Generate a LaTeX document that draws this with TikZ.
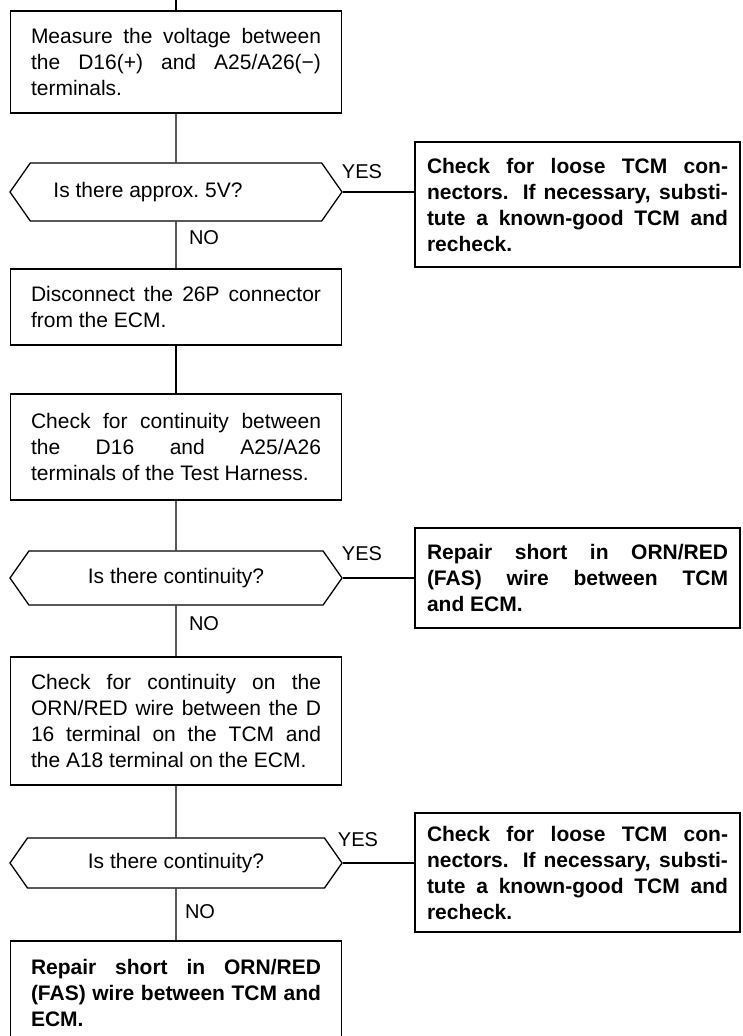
\documentclass[tikz,border=0pt]{standalone}
\usepackage{fontspec}
\setmainfont{Liberation Sans}
\usetikzlibrary{shapes.symbols}

\begin{document}
\begin{tikzpicture}[x=1pt,y=-1pt,
    act/.style={draw,line width=1.3pt,text width=290pt,inner xsep=20.5pt,inner ysep=0pt,align=justify,font=\fontsize{21}{26}\selectfont},
    res/.style={act,text width=301pt,inner xsep=12pt,font=\fontsize{21}{26}\selectfont\bfseries},
    ask/.style={draw,line width=1.3pt,signal,signal to=west and east,signal pointer angle=110,minimum width=332pt,minimum height=54pt,inner sep=0pt,font=\fontsize{21}{26}\selectfont},
    lab/.style={font=\fontsize{20}{24}\selectfont},
    a/.style={line width=1.3pt}]
  \useasboundingbox (0,0) rectangle (742,1036);
  \clip (0,0) rectangle (742,1036);
  % left column
  \coordinate (top) at (176,0);
  \node[act,minimum height=102pt] (meas) at (176,62) {Measure the voltage between\linebreak the D16(+) and A25/A26(−)\linebreak terminals.};
  \node[ask,minimum height=58pt] (q1) at (176,192) {Is there approx.\ 5V?\hspace*{56pt}};
  \node[act,minimum height=76pt] (disc) at (176,307) {Disconnect the 26P connector\linebreak from the ECM.};
  \node[act,minimum height=106pt] (cont) at (176,447) {Check for continuity between\linebreak the D16 and A25/A26\linebreak terminals of the Test Harness.};
  \node[ask] (q2) at (176,578) {Is there continuity?};
  \node[act,minimum height=128pt] (wire) at (176,721) {Check for continuity on the\linebreak ORN/RED wire between the D\linebreak 16 terminal on the TCM and\linebreak the A18 terminal on the ECM.};
  \node[ask,minimum height=50pt] (q3) at (176,863) {Is there continuity?};
  \node[act,minimum height=104pt,font=\fontsize{21}{26}\selectfont\bfseries] (fix) at (176,993) {Repair short in ORN/RED\linebreak (FAS) wire between TCM and\linebreak ECM.};
  % right column
  \node[res,minimum height=125pt] (r1) at (577.5,204.5) {Check for loose TCM con-\linebreak nectors. If necessary, substi-\linebreak tute a known-good TCM and\linebreak recheck.};
  \node[res,minimum height=100pt] (r2) at (577.5,578) {Repair short in ORN/RED\linebreak (FAS) wire between TCM\linebreak and ECM.};
  \node[res,minimum height=119pt] (r3) at (577.5,872.5) {Check for loose TCM con-\linebreak nectors. If necessary, substi-\linebreak tute a known-good TCM and\linebreak recheck.};
  % labels
  \node[lab] (y1) at (362,172) {YES};
  \node[lab] (n1) at (204,238) {NO};
  \node[lab] (y2) at (362,554) {YES};
  \node[lab] (n2) at (204,624) {NO};
  \node[lab] (y3) at (358,840) {YES};
  \node[lab] (n3) at (200,912) {NO};
  % connectors
  \draw[a] (top) -- (meas);
  \draw[a] (meas) -- (q1); \draw[a] (q1) -- (disc); \draw[a] (disc) -- (cont);
  \draw[a] (cont) -- (q2); \draw[a] (q2) -- (wire); \draw[a] (wire) -- (q3); \draw[a] (q3) -- (fix);
  \draw[a] (q1.east) -- (q1.east -| r1.west);
  \draw[a] (q2.east) -- (q2.east -| r2.west);
  \draw[a] (q3.east) -- (q3.east -| r3.west);
\end{tikzpicture}
\end{document}
